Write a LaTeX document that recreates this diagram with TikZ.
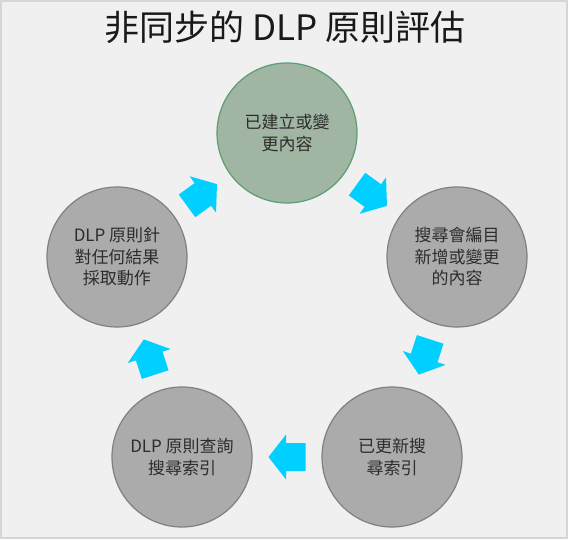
\documentclass[tikz,border=0pt]{standalone}
\usepackage{fontspec}
\setmainfont{Noto Sans CJK TC}
\usepackage{tikz}
\usetikzlibrary{calc}
\usetikzlibrary{positioning}
\definecolor{framegray}{RGB}{214, 214, 214}
\definecolor{backgray}{RGB}{240, 240, 240}
\definecolor{phasegray}{RGB}{171, 171, 171}
\definecolor{ringgray}{RGB}{128, 128, 128}
\definecolor{phasegreen}{RGB}{160, 181, 162}
\definecolor{ringgreen}{RGB}{92, 158, 116}
\definecolor{flowcyan}{RGB}{0, 208, 255}
\definecolor{textgray}{RGB}{45, 45, 45}
\tikzset{
	phase/.style={circle, minimum size=140pt, inner sep=0pt, draw=ringgray, fill=phasegray, line width=1.2pt,
		align=center, text=textgray, font=\fontsize{17}{21.5}\selectfont},
	phasenew/.style={phase, draw=ringgreen, fill=phasegreen},
	flow/.style={fill=flowcyan, draw=none}
}
\newcommand{\flowarrow}[3]{% {from}{to}{angle}
	\begin{scope}[shift={($(#1)!0.5!(#2)$)}, rotate=#3]
		\fill[flow] (18.5,0) -- (1,22.5) -- (1,14) -- (-18.5,14) -- (-18.5,-14) -- (1,-14) -- (1,-22.5) -- cycle; % block arrow
	\end{scope}
}

\begin{document}
\begin{tikzpicture}[x=1pt, y=1pt]
	\useasboundingbox (0,0) rectangle (568,539);
	\fill[framegray] (0,0) rectangle (568,539);
	\fill[backgray] (2,2) rectangle (566,537);

	\node[text=black!90, font=\fontsize{35}{40}\selectfont] (title) at (285,512) {非同步的 DLP 原則評估};

	\node[phasenew] (changed) at (287,406) {已建立或變\\更內容};
	\node[phase] (crawled) at (457,282) {搜尋會編目\\新增或變更\\的內容};
	\node[phase] (indexed) at (392,82) {已更新搜\\尋索引};
	\node[phase] (queried) at (182,82) {DLP 原則查詢\\搜尋索引};
	\node[phase] (acted) at (117,282) {DLP 原則針\\對任何結果\\採取動作};

	\flowarrow{changed}{crawled}{-36}
	\flowarrow{crawled}{indexed}{-108}
	\flowarrow{indexed}{queried}{180}
	\flowarrow{queried}{acted}{108}
	\flowarrow{acted}{changed}{36}
\end{tikzpicture}
\end{document}
